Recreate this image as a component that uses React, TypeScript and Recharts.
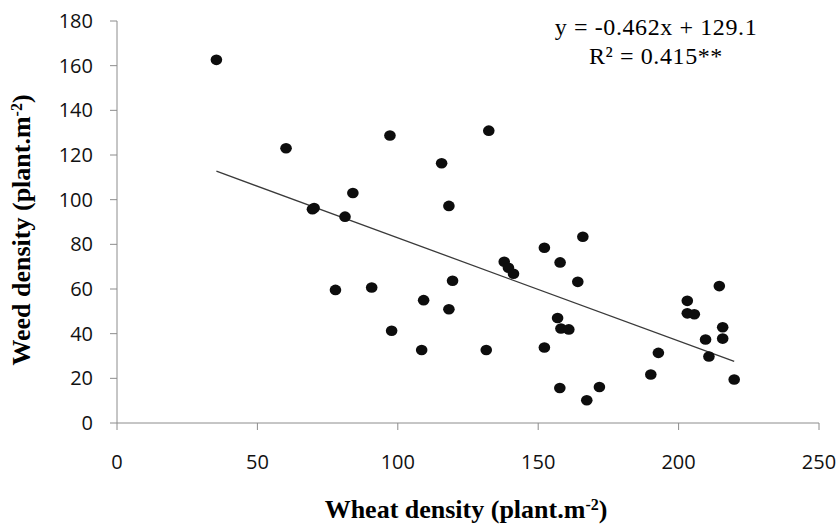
import { ScatterChart, Scatter, XAxis, YAxis, Label } from 'recharts';

// wheat density (x) and weed density (y)
const wheat = [
  35.4, 60.2, 97.2, 69.6, 70.2, 81.2, 84.0, 77.8, 90.7, 97.8,
  132.4, 115.6, 118.2, 152.2, 165.9, 157.8, 137.9, 139.4, 141.2, 164.1,
  119.5, 109.2, 118.2, 108.5, 131.5, 152.2, 156.9, 158.1, 160.9, 157.7,
  171.8, 167.3, 190.1, 192.8, 203.1, 203.1, 205.6, 214.5, 215.7, 215.7,
  209.6, 210.8, 219.8,
];
const weed = [
  162.6, 123.0, 128.7, 95.7, 96.3, 92.4, 103.0, 59.6, 60.7, 41.3,
  130.9, 116.3, 97.2, 78.5, 83.4, 71.9, 72.2, 69.5, 66.8, 63.2,
  63.7, 55.0, 50.9, 32.7, 32.7, 33.8, 47.0, 42.3, 41.9, 15.7,
  16.1, 10.2, 21.7, 31.4, 54.7, 49.1, 48.7, 61.3, 42.9, 37.8,
  37.4, 29.8, 19.5,
];

const slope = -0.462;
const intercept = 129.1;
const xTicks = [0, 50, 100, 150, 200, 250];
const yTicks = [0, 20, 40, 60, 80, 100, 120, 140, 160, 180];

const points = wheat.map((x, i) => ({ x, y: weed[i] }));
const xMin = Math.min(...wheat);
const xMax = Math.max(...wheat);
const trend = [xMin, xMax].map((x) => ({ x, y: slope * x + intercept }));

const axisColor = '#8c8c8c';
const tickFont = { fontFamily: 'Open Sans', fontSize: 20, fill: '#111' };
const serif = 'Liberation Serif';

const Dot = (props: any) => (
  <ellipse cx={props.cx} cy={props.cy} rx={5.8} ry={5.3} fill="#0d0d0d" />
);

export default function App() {
  return (
    <div style={{ position: 'absolute', left: 0, top: 0, width: 837, height: 524, background: '#fff' }}>
      <ScatterChart width={837} height={524} margin={{ top: 21, right: 18, bottom: 41, left: 0 }}>
        <XAxis
          type="number"
          dataKey="x"
          domain={[0, 250]}
          ticks={xTicks}
          height={60}
          tickSize={7}
          tickMargin={25}
          stroke={axisColor}
          tick={tickFont}
          axisLine={{ stroke: axisColor }}
          tickLine={{ stroke: axisColor }}
        >
          <Label
            content={(p: any) => {
              const vb = p.viewBox;
              return (
                <text
                  x={vb.x + vb.width / 2 - 2}
                  y={518}
                  textAnchor="middle"
                  fontFamily={serif}
                  fontWeight="bold"
                  fontSize={26}
                  fill="#000"
                >
                  Wheat density (plant.m<tspan fontSize={16} baselineShift="super">-2</tspan>)
                </text>
              );
            }}
          />
        </XAxis>
        <YAxis
          type="number"
          dataKey="y"
          domain={[0, 180]}
          ticks={yTicks}
          width={117}
          tickSize={7}
          tickMargin={17}
          stroke={axisColor}
          tick={tickFont}
          axisLine={{ stroke: axisColor }}
          tickLine={{ stroke: axisColor }}
        >
          <Label
            content={(p: any) => {
              const vb = p.viewBox;
              const cy = vb.y + vb.height / 2 + 8;
              return (
                <text
                  x={30}
                  y={cy}
                  transform={`rotate(-90 30 ${cy})`}
                  textAnchor="middle"
                  fontFamily={serif}
                  fontWeight="bold"
                  fontSize={26}
                  fill="#000"
                >
                  Weed density (plant.m<tspan fontSize={16} baselineShift="super">-2</tspan>)
                </text>
              );
            }}
          />
        </YAxis>
        <Scatter
          data={trend}
          line={{ stroke: '#3a3a3a', strokeWidth: 1.3 }}
          shape={() => null}
          isAnimationActive={false}
        />
        <Scatter data={points} shape={Dot} isAnimationActive={false} />
      </ScatterChart>
      <div
        style={{
          position: 'absolute',
          left: 546,
          top: 13,
          width: 220,
          textAlign: 'center',
          fontFamily: serif,
          fontSize: 24,
          lineHeight: '29px',
          color: '#000',
          letterSpacing: 0.6,
        }}
      >
        <div>y = -0.462x + 129.1</div>
        <div>R² = 0.415**</div>
      </div>
    </div>
  );
}
